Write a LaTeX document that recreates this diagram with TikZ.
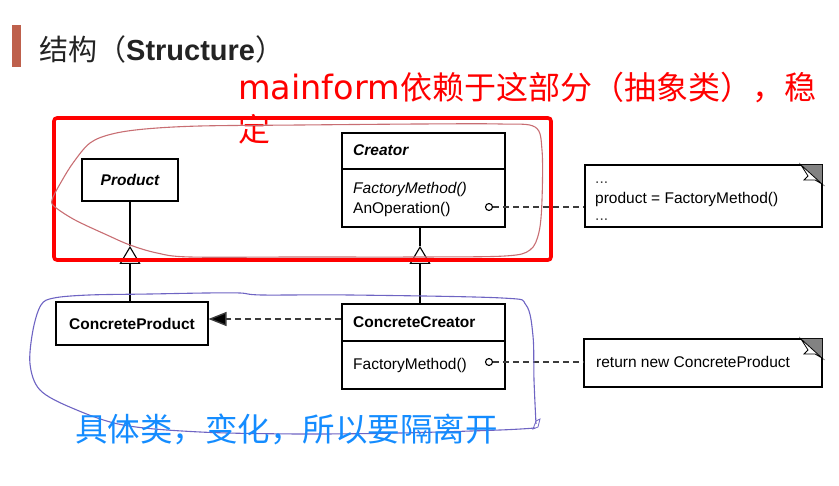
\documentclass[tikz,border=0pt]{standalone}
\usepackage{fontspec}
\setmainfont{Liberation Sans}
\newfontfamily\cjk{Noto Sans CJK SC}
\newfontfamily\annlatin{DejaVu Sans}
\usetikzlibrary{arrows.meta}
\definecolor{titlebar}{RGB}{190,96,76}
\definecolor{titletext}{RGB}{35,35,35}
\definecolor{annred}{RGB}{255,0,0}
\definecolor{annblue}{RGB}{20,140,255}
\definecolor{pinkloop}{RGB}{200,110,115}
\definecolor{blueloop}{RGB}{110,100,195}
\definecolor{depgray}{RGB}{60,60,60}
\definecolor{foldgray}{RGB}{130,130,130}
\begin{document}
\begin{tikzpicture}[x=1pt,y=-1pt,
  box/.style={draw=black, line width=1.1pt, inner sep=0pt},
  umltxt/.style={font=\fontsize{15.5}{18}\selectfont, inner sep=0pt, anchor=base west},
  notebox/.style={draw=black, line width=1.1pt, inner sep=0pt},
  dep/.style={draw=depgray, line width=1.4pt, dash pattern=on 6pt off 4pt},
  inh/.style={draw=black, line width=1.1pt, -{Triangle[open, length=18pt, width=21pt, line width=1.1pt]}},
  lollipop/.style={circle, draw=black, line width=1.1pt, fill=white, inner sep=0pt, minimum size=7pt},
  ann/.style={inner sep=0pt, anchor=base west},
  loop/.style={line width=1.1pt}
]
\useasboundingbox (0,0) rectangle (839,486);

% title
\fill[titlebar] (12,25) rectangle (21,67);
\node[ann, text=titletext, font=\fontsize{29}{34}\selectfont] (title) at (39,61)
  {{\cjk 结构（}\textbf{Structure}{\cjk ）}};

% annotations (red)
\node[ann, text=annred, font=\cjk\fontsize{32}{40}\selectfont] (annA) at (238,100)
  {{\annlatin\fontsize{33.5}{40}\selectfont mainform}依赖于这部分（抽象类），稳};
\node[ann, text=annred, font=\cjk\fontsize{32}{40}\selectfont] (annB) at (238,142) {定};

% class boxes
\node[box, minimum width=96pt, minimum height=42pt,
  font=\fontsize{15.5}{18}\selectfont\bfseries\itshape] (prod) at (130,180) {Product};
\node[box, minimum width=163pt, minimum height=94pt] (creator) at (423.5,180) {};
\draw[line width=1.1pt] (342,169) -- (505,169);
\node[umltxt, font=\fontsize{15.5}{18}\selectfont\bfseries\itshape] (creatorname) at (353,155.5) {Creator};
\node[umltxt, font=\fontsize{15.5}{18}\selectfont\itshape] (creatorfm) at (353,193.5) {FactoryMethod()};
\node[umltxt] (creatorop) at (353,213.5) {AnOperation()};

\node[box, minimum width=152pt, minimum height=43pt,
  font=\fontsize{15.5}{18}\selectfont\bfseries] (cprod) at (132,323.5) {ConcreteProduct};
\node[box, minimum width=163pt, minimum height=85pt] (ccreator) at (423.5,346.5) {};
\draw[line width=1.1pt] (342,341) -- (505,341);
\node[umltxt, font=\fontsize{15.5}{18}\selectfont\bfseries] (ccname) at (353,327.5) {ConcreteCreator};
\node[umltxt] (ccfm) at (353,370) {FactoryMethod()};

% notes
\node[notebox, minimum width=237pt, minimum height=62pt] (note1) at (703.5,196) {};
\fill[foldgray] (801,165) -- (822,165) -- (822,184) -- cycle;
\draw[line width=0.8pt, fill=white] (801,165) -- (808,176) -- (804,180) -- (815,180) -- (822,184) -- cycle;
\node[umltxt, text=black!75] (n1a) at (595,184) {...};
\node[umltxt] (n1b) at (595,203.5) {product = FactoryMethod()};
\node[umltxt, text=black!75] (n1c) at (595,221) {...};

\node[notebox, minimum width=238pt, minimum height=48pt] (note2) at (703,363) {};
\fill[foldgray] (801,339) -- (822,339) -- (822,358) -- cycle;
\draw[line width=0.8pt, fill=white] (801,339) -- (808,350) -- (804,354) -- (815,354) -- (822,358) -- cycle;
\node[umltxt] (n2a) at (596,368) {return new ConcreteProduct};

% lollipops and dashed note links
\node[lollipop] (lp1) at (489,207) {};
\node[lollipop] (lp2) at (489,362) {};
\draw[dep] (lp1) -- (lp1 -| note1.west);
\draw[dep] (lp2) -- (lp2 -| note2.west);

% inheritance
\coordinate (tp) at (130,246);
\coordinate (tc) at (420,246);
\draw[line width=1.1pt] (prod.south) -- (tp);
\draw[inh] (cprod.north -| tp) -- (tp);
\draw[line width=1.1pt] (creator.south -| tc) -- (tc);
\draw[inh] (ccreator.north -| tc) -- (tc);

% dependency ConcreteCreator -> ConcreteProduct
\coordinate (dy) at (0,319);
\draw[dep, -{Triangle[length=18pt, width=14pt, fill=black]}] (ccreator.west |- dy) -- (cprod.east |- dy);

% red frame
\draw[annred, line width=3.6pt, rounded corners=3pt] (54,118) rectangle (551,260);

% pink hand-drawn loop
\draw[pinkloop, loop] plot[smooth cycle, tension=0.55] coordinates {
  (52,200) (60,184) (73,163) (90,143) (112,134) (145,129) (200,126) (300,125)
  (420,124) (500,124) (535,127) (542,150) (542,200) (539,232) (530,250)
  (505,256) (420,257) (300,257) (190,257) (157,253) (130,245) (107,235) (75,220) (55,207)};

% blue hand-drawn loop
\draw[blueloop, loop] plot[smooth, tension=0.55] coordinates {
  (535,428) (500,430) (400,433) (300,434) (200,432) (123,425) (72,408)
  (40,390) (30,364) (33,330) (41,305) (54,298) (89,295) (150,294) (206,293)
  (240,293) (262,295) (350,295) (502,298) (526,305) (533,336) (534,380) (536,424)};
\draw[blueloop, line width=0.8pt] (533,429) -- (536,421) -- (540,419) -- (538,427) -- cycle;

% blue annotation
\node[ann, text=annblue, font=\cjk\fontsize{32.5}{40}\selectfont] (annC) at (75,442)
  {具体类，变化，所以要隔离开};
\end{tikzpicture}
\end{document}
